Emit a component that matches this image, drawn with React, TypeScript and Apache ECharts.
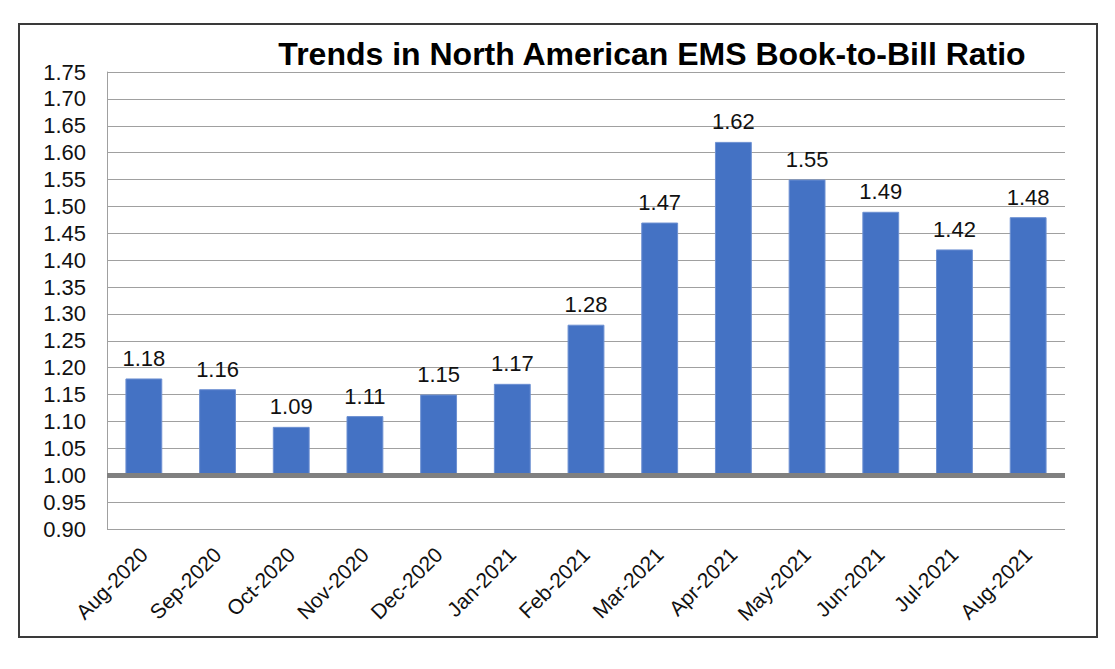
import React, { useEffect, useRef } from "react";
import * as echarts from "echarts";

const categories = [
  "Aug-2020", "Sep-2020", "Oct-2020", "Nov-2020", "Dec-2020", "Jan-2021", "Feb-2021",
  "Mar-2021", "Apr-2021", "May-2021", "Jun-2021", "Jul-2021", "Aug-2021",
];
const ratios = [1.18, 1.16, 1.09, 1.11, 1.15, 1.17, 1.28, 1.47, 1.62, 1.55, 1.49, 1.42, 1.48];
const baseline = 1.0;
const yMin = 0.9;
const yMax = 1.75;
const yStep = 0.05;
const title = "Trends in North American EMS Book-to-Bill Ratio";

const FONT = "'Liberation Sans', Arial, sans-serif";

export default function App() {
  const ref = useRef<HTMLDivElement>(null);
  useEffect(() => {
    document.body.style.margin = "0";
    const chart = echarts.init(ref.current!, null, { renderer: "svg" });
    const baseData = ratios.map(() => baseline);
    const topData = ratios.map((v) => Number((v - baseline).toFixed(4)));
    chart.setOption({
      animation: false,
      backgroundColor: "#ffffff",
      textStyle: { fontFamily: FONT },
      graphic: [
        {
          type: "rect",
          shape: { x: 19, y: 24, width: 1078, height: 613 },
          style: { fill: "none", stroke: "#3a3a3a", lineWidth: 2 },
          z: 0,
        },
        {
          type: "text",
          x: 652,
          y: 54,
          style: {
            text: title,
            font: `bold 32px ${FONT}`,
            fill: "#000000",
            textAlign: "center",
            textVerticalAlign: "middle",
          },
        },
      ],
      grid: { left: 107, right: 50, top: 72, bottom: 140 },
      xAxis: {
        type: "category",
        data: categories,
        axisLine: { show: false },
        axisTick: { show: false },
        axisLabel: {
          rotate: 45,
          fontSize: 21,
          color: "#111",
          fontFamily: FONT,
          margin: 22,
          interval: 0,
        },
      },
      yAxis: {
        type: "value",
        min: yMin,
        max: yMax,
        interval: yStep,
        axisLine: { show: true, lineStyle: { color: "#a0a0a0", width: 1 } },
        axisTick: { show: false },
        splitLine: { show: true, lineStyle: { color: "#a0a0a0", width: 1 } },
        axisLabel: {
          fontSize: 22,
          color: "#111",
          fontFamily: FONT,
          margin: 21,
          formatter: (v: number) => v.toFixed(2),
        },
      },
      series: [
        {
          type: "bar",
          stack: "r",
          data: baseData,
          barWidth: "50%",
          itemStyle: { color: "transparent" },
          silent: true,
        },
        {
          type: "bar",
          stack: "r",
          data: topData,
          barWidth: "50%",
          itemStyle: { color: "#4472C4", borderColor: "#6d90d2", borderWidth: 1 },
          label: {
            show: true,
            position: "top",
            distance: 9,
            fontSize: 22,
            color: "#111",
            fontFamily: FONT,
            formatter: (p: any) => ratios[p.dataIndex].toFixed(2),
          },
          markLine: {
            silent: true,
            symbol: "none",
            label: { show: false },
            lineStyle: { color: "#808080", width: 5, type: "solid" },
            data: [{ yAxis: baseline }],
            z: 5,
          },
        },
      ],
    });
    return () => chart.dispose();
  }, []);
  return <div ref={ref} style={{ width: 1115, height: 669 }} />;
}
